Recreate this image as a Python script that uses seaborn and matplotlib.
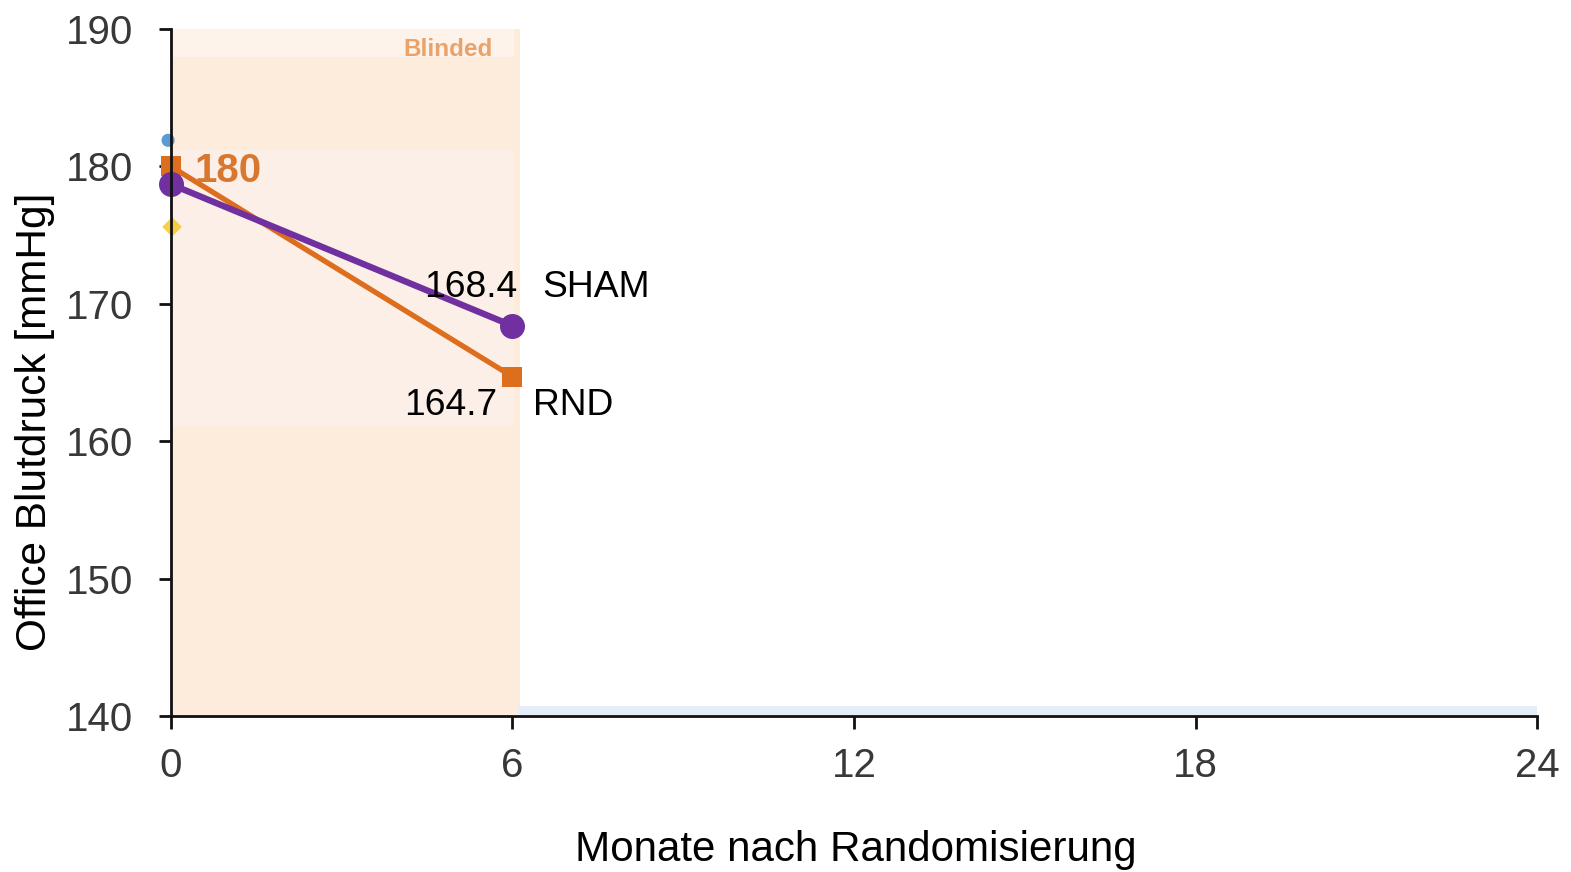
import matplotlib
matplotlib.use("Agg")
import matplotlib.pyplot as plt
import matplotlib.patches as mpatches
import seaborn as sns
import pandas as pd

# Office blood pressure over months after randomisation
months = [0, 6]
rnd_values = [180.0, 164.7]
sham_values = [178.7, 168.4]
x_ticks = [0, 6, 12, 18, 24]
y_ticks = [140, 150, 160, 170, 180, 190]

# faint baseline markers of the other cohorts
other_months = [0, 0]
other_values = [181.9, 175.6]

sns.set_theme(style="white")
plt.rcParams["font.family"] = ["Liberation Sans", "DejaVu Sans"]

fig = plt.figure(figsize=(15.71, 8.72), dpi=100)
ax = fig.add_axes([0.1088, 0.1789, 0.8696, 0.7878])

ORANGE = "#dc6e1e"
PURPLE = "#7030a0"

# blinded phase shading
ax.add_patch(mpatches.Rectangle((0, 140), 6.13, 50, facecolor="#fdebdb",
                                edgecolor="none", zorder=0))
ax.add_patch(mpatches.Rectangle((0, 161.1), 6.03, 20.1, facecolor="#fcefe7",
                                edgecolor="none", zorder=0.1))
ax.add_patch(mpatches.Rectangle((0, 188.0), 6.03, 2.0, facecolor="#fdf3ea",
                                edgecolor="none", zorder=0.1))
ax.add_patch(mpatches.Rectangle((6.1, 140), 17.9, 0.75, facecolor="#e3eef8",
                                edgecolor="none", zorder=0))
ax.text(4.87, 188.5, "Blinded", color="#e9a26a", fontsize=17.5,
        fontweight="bold", ha="center", va="center", zorder=1)

# faint baseline markers
ax.scatter([other_months[0] - 0.05], [other_values[0]], s=90, color="#5b9bd5",
           zorder=2, clip_on=False, edgecolors="none")
ax.scatter([other_months[1] + 0.02], [other_values[1]], s=100, marker="D",
           color="#f5c518", zorder=2, clip_on=False, edgecolors="none", alpha=0.8)

df = pd.DataFrame({
    "Monat": months * 2,
    "Wert": rnd_values + sham_values,
    "Gruppe": ["RND"] * 2 + ["SHAM"] * 2,
})

sns.lineplot(data=df[df.Gruppe == "RND"], x="Monat", y="Wert", color=ORANGE,
             marker="s", markersize=15, markeredgewidth=0, linewidth=3.8,
             ax=ax, zorder=3, clip_on=False)
sns.lineplot(data=df[df.Gruppe == "SHAM"], x="Monat", y="Wert", color=PURPLE,
             marker="o", markersize=18, markeredgewidth=0, linewidth=4.6,
             ax=ax, zorder=4, clip_on=False)

# value labels
ax.text(0.42, rnd_values[0] - 0.3, f"{rnd_values[0]:.0f}", color="#d8772f",
        fontsize=29, fontweight="bold", ha="left", va="center", zorder=5)
ax.text(6.08, 171.2, f"{sham_values[1]:.1f}", color="black", fontsize=26.8,
        ha="right", va="center", zorder=5)
ax.text(6.52, 171.2, "SHAM", color="black", fontsize=26.8,
        ha="left", va="center", zorder=5)
ax.text(5.73, 162.6, f"{rnd_values[1]:.1f}", color="black", fontsize=26.8,
        ha="right", va="center", zorder=5)
ax.text(6.36, 162.6, "RND", color="black", fontsize=26.8,
        ha="left", va="center", zorder=5)

ax.set_xlim(0, 24)
ax.set_ylim(140, 190)
ax.set_xticks(x_ticks)
ax.set_yticks(y_ticks)
ax.set_xticklabels([str(t) for t in x_ticks])
ax.set_yticklabels([str(t) for t in y_ticks])

for side in ["top", "right"]:
    ax.spines[side].set_visible(False)
for side in ["left", "bottom"]:
    ax.spines[side].set_color("#111111")
    ax.spines[side].set_linewidth(2.0)
    ax.spines[side].set_zorder(6)

ax.tick_params(axis="both", which="major", direction="out", length=9,
               width=2.0, color="#111111", labelsize=29, labelcolor="#383838",
               left=True, bottom=True)
ax.tick_params(axis="y", pad=18)
ax.tick_params(axis="x", pad=13)

ax.set_xlabel("Monate nach Randomisierung", fontsize=30.3, color="black",
              va="center")
ax.set_ylabel("Office Blutdruck [mmHg]", fontsize=30.5, color="black",
              va="center")
ax.xaxis.set_label_coords(0.5015, -0.195)
ax.yaxis.set_label_coords(-0.0996, 0.428)

ax.set_facecolor("white")
fig.patch.set_facecolor("white")
fig.savefig("out.png", dpi=100, facecolor="white")
